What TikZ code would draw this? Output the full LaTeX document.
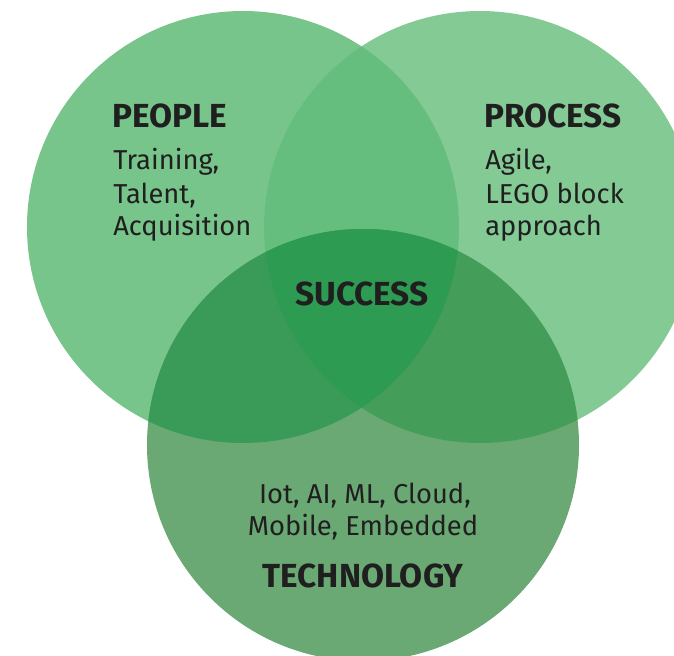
\documentclass[tikz,border=0pt]{standalone}
\usepackage{fontspec}
\setmainfont{Fira Sans}
\begin{document}
\begin{tikzpicture}[x=0.75pt,y=-0.75pt,
  title/.style={font=\fontsize{25}{30}\selectfont\bfseries, text=black!88, inner sep=0pt},
  body/.style={font=\fontsize{20.5}{25}\selectfont, text=black!88, inner sep=0pt}]
\definecolor{cA}{RGB}{120,197,140}
\definecolor{cB}{RGB}{132,202,149}
\definecolor{cC}{RGB}{106,168,116}
\definecolor{cD}{RGB}{102,190,126}
\definecolor{cE}{RGB}{58,155,88}
\definecolor{cF}{RGB}{68,158,90}
\definecolor{cG}{RGB}{46,155,82}
\useasboundingbox (0,0) rectangle (674,656);
\def\rr{162pt}
\coordinate (L) at (243,227);
\coordinate (R) at (480,227);
\coordinate (B) at (363,445);
\fill[cA] (L) circle[radius=\rr];
\fill[cB] (R) circle[radius=\rr];
\fill[cC] (B) circle[radius=\rr];
\begin{scope}\clip (L) circle[radius=\rr]; \fill[cD] (R) circle[radius=\rr];\end{scope}
\begin{scope}\clip (L) circle[radius=\rr]; \fill[cE] (B) circle[radius=\rr];\end{scope}
\begin{scope}\clip (R) circle[radius=\rr]; \fill[cF] (B) circle[radius=\rr];\end{scope}
\begin{scope}\clip (L) circle[radius=\rr]; \clip (R) circle[radius=\rr]; \fill[cG] (B) circle[radius=\rr];\end{scope}
% People
\node[title, anchor=base west] (people) at (112,128) {PEOPLE};
\node[body, anchor=base west] (p1) at (113,170) {Training,};
\node[body, anchor=base west] (p2) at (113,203) {Talent,};
\node[body, anchor=base west] (p3) at (113,235) {Acquisition};
% Process
\node[title, anchor=base west] (process) at (484,128) {PROCESS};
\node[body, anchor=base west] (q1) at (485,170) {Agile,};
\node[body, anchor=base west] (q2) at (485,203) {LEGO block};
\node[body, anchor=base west] (q3) at (485,235) {approach};
% Success
\node[title, anchor=base] (success) at (362,305) {SUCCESS};
% Technology
\node[body, anchor=base] (t1) at (365,503) {Iot, AI, ML, Cloud,};
\node[body, anchor=base] (t2) at (363,535) {Mobile, Embedded};
\node[title, anchor=base] (tech) at (363,587) {TECHNOLOGY};
\end{tikzpicture}
\end{document}
